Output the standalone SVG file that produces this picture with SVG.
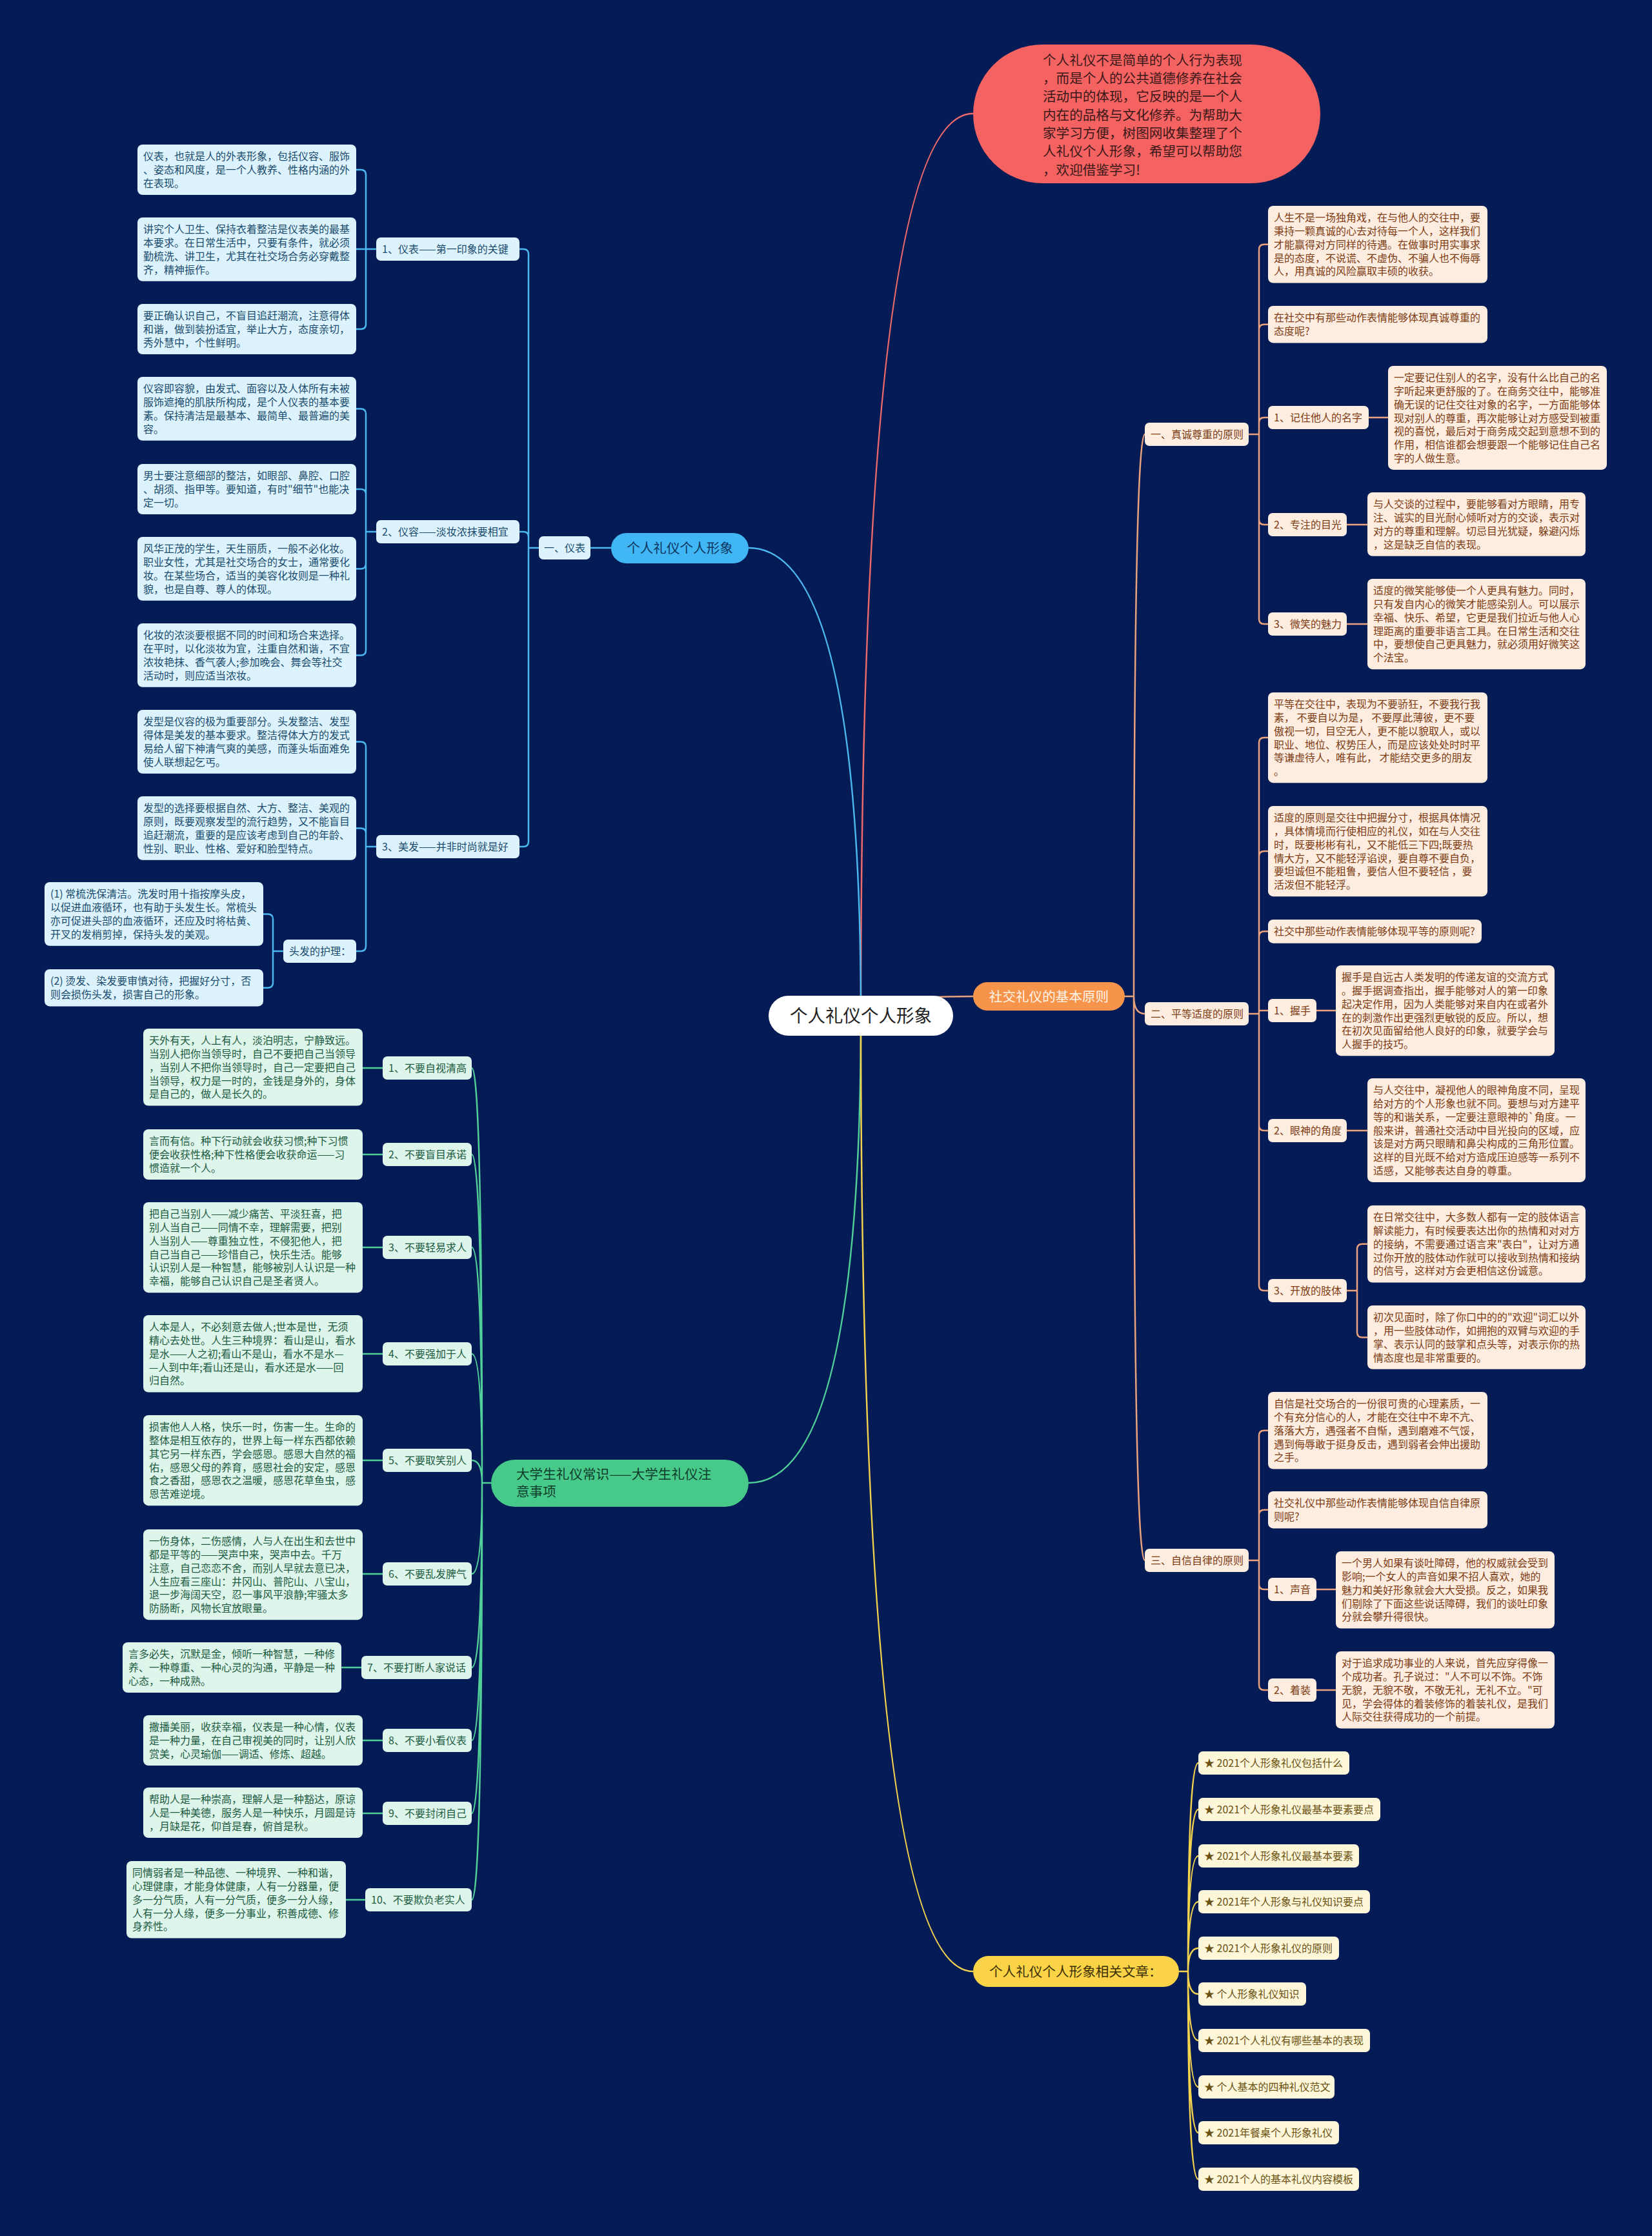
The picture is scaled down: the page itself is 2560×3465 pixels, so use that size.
<svg xmlns="http://www.w3.org/2000/svg" width="2560" height="3465" viewBox="0 0 2560 3465">
<style>
text{font-family:"Noto Sans CJK SC","Noto Sans",sans-serif}
.s{font-size:16px}
.m{font-size:20.6px}
.bb{fill:#dcf3fd}.bt{fill:#1b4b6d}
.gb{fill:#ddf5eb}.gt{fill:#1d5b41}
.ob{fill:#fdece0}.ot{fill:#7d3c13}
.yb{fill:#fdf6d9}.yt{fill:#6b5212}
.cb{fill:none;stroke:#4cb6ee;stroke-width:2.5}
.cg{fill:none;stroke:#50cf98;stroke-width:2.5}
.co{fill:none;stroke:#e9a27b;stroke-width:2.5}
.cy{fill:none;stroke:#f3d34e;stroke-width:2.5}
.cr{fill:none;stroke:#ef6a6a;stroke-width:2.5}
</style>
<rect x="0" y="0" width="2560" height="3465" fill="#041b55"/>
<g id="connectors">
<path class="cr" d="M1334 1574 Q1334 176 1508 176"/>
<path class="cb" d="M1334 1574 Q1334 849 1160 849"/>
<path class="cg" d="M1334 1574 Q1334 2298 1160 2298"/>
<path class="co" d="M1334 1574 Q1334 1544 1508 1544"/>
<path class="cy" d="M1334 1574 Q1334 3055 1508 3055"/>
<path class="cb" d="M947 849 H915 M835 849 H819 M819 849 V394 Q819 386 811 386 H805 M819 849 V832 Q819 824 811 824 H805 M819 849 V1304 Q819 1312 811 1312 H805"/>
<path class="cb" d="M583 386 H552 M567 386 V271 Q567 263 559 263 H552 M567 386 V502 Q567 510 559 510 H552"/>
<path class="cb" d="M583 824 H567 M567 824 V641.4 Q567 633.4 559 633.4 H552 M567 824 V766 Q567 758 559 758 H552 M567 824 V873.4 Q567 881.4 559 881.4 H552 M567 824 V1007.4 Q567 1015.4 559 1015.4 H552"/>
<path class="cb" d="M583 1312 H567 M567 1312 V1157.4 Q567 1149.4 559 1149.4 H552 M567 1312 V1291.4 Q567 1283.4 559 1283.4 H552 M567 1312 V1466 Q567 1474 559 1474 H552"/>
<path class="cb" d="M439 1474 H423 M423 1474 V1424.4 Q423 1416.4 415 1416.4 H408 M423 1474 V1522.7 Q423 1530.7 415 1530.7 H408"/>
<path class="cg" d="M761 2298 H747 Q747 1655 731 1655 M747 2298 Q747 1789 731 1789 M747 2298 Q747 1933 731 1933 M747 2298 Q747 2098 731 2098 M747 2298 Q747 2263 731 2263 M747 2298 Q747 2439 731 2439 M747 2298 Q747 2584 731 2584 M747 2298 Q747 2697 731 2697 M747 2298 Q747 2810 731 2810 M747 2298 Q747 2944 731 2944"/>
<path class="cg" d="M593 1655 H562 M593 1789 H562 M593 1933 H562 M593 2098 H562 M593 2263 H562 M593 2439 H562 M560 2584 H529 M593 2697 H562 M593 2810 H562 M566 2944 H536"/>
<path class="co" d="M1743 1544 H1757 Q1757 673 1774 673 M1757 1544 Q1757 1571 1774 1571 M1757 1544 Q1757 2418 1774 2418"/>
<path class="co" d="M1935 673 H1951 M1951 673 V386.75 Q1951 378.75 1959 378.75 H1965 M1951 673 V510.7 Q1951 502.7 1959 502.7 H1965 M1951 673 V655 Q1951 647 1959 647 H1965 M1951 673 V805 Q1951 813 1959 813 H1965 M1951 673 V959 Q1951 967 1959 967 H1965"/>
<path class="co" d="M2121 647 H2151 M2087 813 H2119 M2087 967 H2119"/>
<path class="co" d="M1935 1571 H1951 M1951 1571 V1151.1 Q1951 1143.1 1959 1143.1 H1965 M1951 1571 V1327.1 Q1951 1319.1 1959 1319.1 H1965 M1951 1571 V1451.35 Q1951 1443.35 1959 1443.35 H1965 M1951 1571 V1566 H1965 M1951 1571 V1744 Q1951 1752 1959 1752 H1965 M1951 1571 V1992 Q1951 2000 1959 2000 H1965"/>
<path class="co" d="M2040 1566 H2070 M2087 1752 H2119 M2087 2000 H2103 M2103 2000 V1935.75 Q2103 1927.75 2111 1927.75 H2119 M2103 2000 V2064.4 Q2103 2072.4 2111 2072.4 H2119"/>
<path class="co" d="M1935 2418 H1951 M1951 2418 V2224.75 Q1951 2216.75 1959 2216.75 H1965 M1951 2418 V2347.7 Q1951 2339.7 1959 2339.7 H1965 M1951 2418 V2455 Q1951 2463 1959 2463 H1965 M1951 2418 V2611 Q1951 2619 1959 2619 H1965"/>
<path class="co" d="M2040 2463 H2070 M2040 2619 H2070"/>
<path class="cy" d="M1827 3055 H1841 Q1841 2732 1857 2732 M1841 3055 Q1841 2804 1857 2804 M1841 3055 Q1841 2876 1857 2876 M1841 3055 Q1841 2947 1857 2947 M1841 3055 Q1841 3019 1857 3019 M1841 3055 Q1841 3090 1857 3090 M1841 3055 Q1841 3162 1857 3162 M1841 3055 Q1841 3234 1857 3234 M1841 3055 Q1841 3305 1857 3305 M1841 3055 Q1841 3377 1857 3377"/>
</g>

<g id="n-center"><rect x="1191" y="1543" width="286" height="62" rx="31" fill="#ffffff"/><text x="1334" y="1584" font-size="27.5" text-anchor="middle" fill="#222222">个人礼仪个人形象</text></g>

<g id="n-intro"><rect x="1508" y="69" width="538" height="215" rx="107.5" fill="#f46262"/>
<text class="m" x="1616" y="100.7" fill="#3b1818"><tspan x="1616">个人礼仪不是简单的个人行为表现</tspan><tspan x="1616" dy="28.33">，而是个人的公共道德修养在社会</tspan><tspan x="1616" dy="28.33">活动中的体现，它反映的是一个人</tspan><tspan x="1616" dy="28.33">内在的品格与文化修养。为帮助大</tspan><tspan x="1616" dy="28.33">家学习方便，树图网收集整理了个</tspan><tspan x="1616" dy="28.33">人礼仪个人形象，希望可以帮助您</tspan><tspan x="1616" dy="28.33">，欢迎借鉴学习!</tspan></text></g>

<g id="b-blue"><rect x="947" y="826" width="213" height="47" rx="23.5" fill="#40b6f4"/><text class="m" x="1053.5" y="857" text-anchor="middle" fill="#0e3560">个人礼仪个人形象</text></g>
<g id="b-green"><rect x="761" y="2262" width="399" height="73" rx="36.5" fill="#47c98a"/><text class="m" x="800" y="2292" fill="#0e3d2b"><tspan x="800">大学生礼仪常识——大学生礼仪注</tspan><tspan x="800" dy="27">意事项</tspan></text></g>
<g id="b-orange"><rect x="1508" y="1522" width="235" height="44" rx="22" fill="#f7944c"/><text class="m" x="1625.5" y="1551.8" text-anchor="middle" fill="#fff4e8">社交礼仪的基本原则</text></g>
<g id="b-yellow"><rect x="1508" y="3031" width="319" height="48" rx="24" fill="#fbd347"/><text class="m" x="1533" y="3062.5" fill="#3b2f05">个人礼仪个人形象相关文章：</text></g>

<g id="n-yibiao"><rect class="bb" x="835" y="831" width="80" height="36" rx="7"/><text class="bt s" x="843" y="855.1">一、仪表</text></g>
<g id="n-b1"><rect class="bb" x="583" y="368" width="222" height="36" rx="7"/><text class="bt s" x="592" y="392.1">1、仪表——第一印象的关键</text></g>
<g id="n-b2"><rect class="bb" x="583" y="806" width="222" height="36" rx="7"/><text class="bt s" x="592" y="830.1">2、仪容——淡妆浓抹要相宜</text></g>
<g id="n-b3"><rect class="bb" x="583" y="1294" width="222" height="36" rx="7"/><text class="bt s" x="592" y="1318.1">3、美发——并非时尚就是好</text></g>
<g id="n-hair"><rect class="bb" x="439" y="1456" width="113" height="36" rx="7"/><text class="bt s" x="448" y="1480.1">头发的护理：</text></g>

<g id="t-a1"><rect class="bb" x="213" y="224" width="339" height="78.1" rx="8"/><text class="bt s" x="222" y="248.4"><tspan x="222">仪表，也就是人的外表形象，包括仪容、服饰</tspan><tspan x="222" dy="20.7">、姿态和风度，是一个人教养、性格内涵的外</tspan><tspan x="222" dy="20.7">在表现。</tspan></text></g>
<g id="t-a2"><rect class="bb" x="213" y="337" width="339" height="98.8" rx="8"/><text class="bt s" x="222" y="361.4"><tspan x="222">讲究个人卫生、保持衣着整洁是仪表美的最基</tspan><tspan x="222" dy="20.7">本要求。在日常生活中，只要有条件，就必须</tspan><tspan x="222" dy="20.7">勤梳洗、讲卫生，尤其在社交场合务必穿戴整</tspan><tspan x="222" dy="20.7">齐，精神振作。</tspan></text></g>
<g id="t-a3"><rect class="bb" x="213" y="471" width="339" height="78.1" rx="8"/><text class="bt s" x="222" y="495.4"><tspan x="222">要正确认识自己，不盲目追赶潮流，注意得体</tspan><tspan x="222" dy="20.7">和谐，做到装扮适宜，举止大方，态度亲切，</tspan><tspan x="222" dy="20.7">秀外慧中，个性鲜明。</tspan></text></g>
<g id="t-a4"><rect class="bb" x="213" y="584" width="339" height="98.8" rx="8"/><text class="bt s" x="222" y="608.4"><tspan x="222">仪容即容貌，由发式、面容以及人体所有未被</tspan><tspan x="222" dy="20.7">服饰遮掩的肌肤所构成，是个人仪表的基本要</tspan><tspan x="222" dy="20.7">素。保持清洁是最基本、最简单、最普遍的美</tspan><tspan x="222" dy="20.7">容。</tspan></text></g>
<g id="t-a5"><rect class="bb" x="213" y="719" width="339" height="78.1" rx="8"/><text class="bt s" x="222" y="743.4"><tspan x="222">男士要注意细部的整洁，如眼部、鼻腔、口腔</tspan><tspan x="222" dy="20.7">、胡须、指甲等。要知道，有时"细节"也能决</tspan><tspan x="222" dy="20.7">定一切。</tspan></text></g>
<g id="t-a6"><rect class="bb" x="213" y="832" width="339" height="98.8" rx="8"/><text class="bt s" x="222" y="856.4"><tspan x="222">风华正茂的学生，天生丽质，一般不必化妆。</tspan><tspan x="222" dy="20.7">职业女性，尤其是社交场合的女士，通常要化</tspan><tspan x="222" dy="20.7">妆。在某些场合，适当的美容化妆则是一种礼</tspan><tspan x="222" dy="20.7">貌，也是自尊、尊人的体现。</tspan></text></g>
<g id="t-a7"><rect class="bb" x="213" y="966" width="339" height="98.8" rx="8"/><text class="bt s" x="222" y="990.4"><tspan x="222">化妆的浓淡要根据不同的时间和场合来选择。</tspan><tspan x="222" dy="20.7">在平时，以化淡妆为宜，注重自然和谐，不宜</tspan><tspan x="222" dy="20.7">浓妆艳抹、香气袭人;参加晚会、舞会等社交</tspan><tspan x="222" dy="20.7">活动时，则应适当浓妆。</tspan></text></g>
<g id="t-a8"><rect class="bb" x="213" y="1100" width="339" height="98.8" rx="8"/><text class="bt s" x="222" y="1124.4"><tspan x="222">发型是仪容的极为重要部分。头发整洁、发型</tspan><tspan x="222" dy="20.7">得体是美发的基本要求。整洁得体大方的发式</tspan><tspan x="222" dy="20.7">易给人留下神清气爽的美感，而蓬头垢面难免</tspan><tspan x="222" dy="20.7">使人联想起乞丐。</tspan></text></g>
<g id="t-a9"><rect class="bb" x="213" y="1234" width="339" height="98.8" rx="8"/><text class="bt s" x="222" y="1258.4"><tspan x="222">发型的选择要根据自然、大方、整洁、美观的</tspan><tspan x="222" dy="20.7">原则，既要观察发型的流行趋势，又不能盲目</tspan><tspan x="222" dy="20.7">追赶潮流，重要的是应该考虑到自己的年龄、</tspan><tspan x="222" dy="20.7">性别、职业、性格、爱好和脸型特点。</tspan></text></g>
<g id="t-h1"><rect class="bb" x="69" y="1367" width="339" height="98.8" rx="8"/><text class="bt s" x="78" y="1391.4"><tspan x="78">(1) 常梳洗保清洁。洗发时用十指按摩头皮，</tspan><tspan x="78" dy="20.7">以促进血液循环，也有助于头发生长。常梳头</tspan><tspan x="78" dy="20.7">亦可促进头部的血液循环，还应及时将枯黄、</tspan><tspan x="78" dy="20.7">开叉的发梢剪掉，保持头发的美观。</tspan></text></g>
<g id="t-h2"><rect class="bb" x="69" y="1502" width="339" height="57.4" rx="8"/><text class="bt s" x="78" y="1526.4"><tspan x="78">(2) 烫发、染发要审慎对待，把握好分寸，否</tspan><tspan x="78" dy="20.7">则会损伤头发，损害自己的形象。</tspan></text></g>

<g id="n-g1"><rect class="gb" x="593" y="1637" width="138" height="36" rx="7"/><text class="gt s" x="602" y="1661.1">1、不要自视清高</text></g>
<g id="n-g2"><rect class="gb" x="593" y="1771" width="138" height="36" rx="7"/><text class="gt s" x="602" y="1795.1">2、不要盲目承诺</text></g>
<g id="n-g3"><rect class="gb" x="593" y="1915" width="138" height="36" rx="7"/><text class="gt s" x="602" y="1939.1">3、不要轻易求人</text></g>
<g id="n-g4"><rect class="gb" x="593" y="2080" width="138" height="36" rx="7"/><text class="gt s" x="602" y="2104.1">4、不要强加于人</text></g>
<g id="n-g5"><rect class="gb" x="593" y="2245" width="138" height="36" rx="7"/><text class="gt s" x="602" y="2269.1">5、不要取笑别人</text></g>
<g id="n-g6"><rect class="gb" x="593" y="2421" width="138" height="36" rx="7"/><text class="gt s" x="602" y="2445.1">6、不要乱发脾气</text></g>
<g id="n-g7"><rect class="gb" x="560" y="2566" width="171" height="36" rx="7"/><text class="gt s" x="569" y="2590.1">7、不要打断人家说话</text></g>
<g id="n-g8"><rect class="gb" x="593" y="2679" width="138" height="36" rx="7"/><text class="gt s" x="602" y="2703.1">8、不要小看仪表</text></g>
<g id="n-g9"><rect class="gb" x="593" y="2792" width="138" height="36" rx="7"/><text class="gt s" x="602" y="2816.1">9、不要封闭自己</text></g>
<g id="n-g10"><rect class="gb" x="566" y="2926" width="165" height="36" rx="7"/><text class="gt s" x="575" y="2950.1">10、不要欺负老实人</text></g>

<g id="t-g1"><rect class="gb" x="222" y="1594" width="340" height="119.5" rx="8"/><text class="gt s" x="231" y="1618.4"><tspan x="231">天外有天，人上有人，淡泊明志，宁静致远。</tspan><tspan x="231" dy="20.7">当别人把你当领导时，自己不要把自己当领导</tspan><tspan x="231" dy="20.7">，当别人不把你当领导时，自己一定要把自己</tspan><tspan x="231" dy="20.7">当领导，权力是一时的，金钱是身外的，身体</tspan><tspan x="231" dy="20.7">是自己的，做人是长久的。</tspan></text></g>
<g id="t-g2"><rect class="gb" x="222" y="1750" width="340" height="78.1" rx="8"/><text class="gt s" x="231" y="1774.4"><tspan x="231">言而有信。种下行动就会收获习惯;种下习惯</tspan><tspan x="231" dy="20.7">便会收获性格;种下性格便会收获命运——习</tspan><tspan x="231" dy="20.7">惯造就一个人。</tspan></text></g>
<g id="t-g3"><rect class="gb" x="222" y="1863" width="340" height="140.2" rx="8"/><text class="gt s" x="231" y="1887.4"><tspan x="231">把自己当别人——减少痛苦、平淡狂喜，把</tspan><tspan x="231" dy="20.7">别人当自己——同情不幸，理解需要，把别</tspan><tspan x="231" dy="20.7">人当别人——尊重独立性，不侵犯他人，把</tspan><tspan x="231" dy="20.7">自己当自己——珍惜自己，快乐生活。能够</tspan><tspan x="231" dy="20.7">认识别人是一种智慧，能够被别人认识是一种</tspan><tspan x="231" dy="20.7">幸福，能够自己认识自己是圣者贤人。</tspan></text></g>
<g id="t-g4"><rect class="gb" x="222" y="2038" width="340" height="119.5" rx="8"/><text class="gt s" x="231" y="2062.4"><tspan x="231">人本是人，不必刻意去做人;世本是世，无须</tspan><tspan x="231" dy="20.7">精心去处世。人生三种境界：看山是山，看水</tspan><tspan x="231" dy="20.7">是水——人之初;看山不是山，看水不是水—</tspan><tspan x="231" dy="20.7">—人到中年;看山还是山，看水还是水——回</tspan><tspan x="231" dy="20.7">归自然。</tspan></text></g>
<g id="t-g5"><rect class="gb" x="222" y="2193" width="340" height="140.2" rx="8"/><text class="gt s" x="231" y="2217.4"><tspan x="231">损害他人人格，快乐一时，伤害一生。生命的</tspan><tspan x="231" dy="20.7">整体是相互依存的，世界上每一样东西都依赖</tspan><tspan x="231" dy="20.7">其它另一样东西，学会感恩。感恩大自然的福</tspan><tspan x="231" dy="20.7">佑，感恩父母的养育，感恩社会的安定，感恩</tspan><tspan x="231" dy="20.7">食之香甜，感恩衣之温暖，感恩花草鱼虫，感</tspan><tspan x="231" dy="20.7">恩苦难逆境。</tspan></text></g>
<g id="t-g6"><rect class="gb" x="222" y="2370" width="340" height="140.2" rx="8"/><text class="gt s" x="231" y="2394.4"><tspan x="231">一伤身体，二伤感情，人与人在出生和去世中</tspan><tspan x="231" dy="20.7">都是平等的——哭声中来，哭声中去。千万</tspan><tspan x="231" dy="20.7">注意，自己恋恋不舍，而别人早就去意已决，</tspan><tspan x="231" dy="20.7">人生应看三座山：井冈山、普陀山、八宝山，</tspan><tspan x="231" dy="20.7">退一步海阔天空，忍一事风平浪静;牢骚太多</tspan><tspan x="231" dy="20.7">防肠断，风物长宜放眼量。</tspan></text></g>
<g id="t-g7"><rect class="gb" x="190" y="2545" width="339" height="78.1" rx="8"/><text class="gt s" x="199" y="2569.4"><tspan x="199">言多必失，沉默是金，倾听一种智慧，一种修</tspan><tspan x="199" dy="20.7">养、一种尊重、一种心灵的沟通，平静是一种</tspan><tspan x="199" dy="20.7">心态，一种成熟。</tspan></text></g>
<g id="t-g8"><rect class="gb" x="222" y="2658" width="340" height="78.1" rx="8"/><text class="gt s" x="231" y="2682.4"><tspan x="231">撒播美丽，收获幸福，仪表是一种心情，仪表</tspan><tspan x="231" dy="20.7">是一种力量，在自己审视美的同时，让别人欣</tspan><tspan x="231" dy="20.7">赏美，心灵瑜伽——调适、修炼、超越。</tspan></text></g>
<g id="t-g9"><rect class="gb" x="222" y="2770" width="340" height="78.1" rx="8"/><text class="gt s" x="231" y="2794.4"><tspan x="231">帮助人是一种崇高，理解人是一种豁达，原谅</tspan><tspan x="231" dy="20.7">人是一种美德，服务人是一种快乐，月圆是诗</tspan><tspan x="231" dy="20.7">，月缺是花，仰首是春，俯首是秋。</tspan></text></g>
<g id="t-g10"><rect class="gb" x="196" y="2884" width="340" height="119.5" rx="8"/><text class="gt s" x="205" y="2908.4"><tspan x="205">同情弱者是一种品德、一种境界、一种和谐，</tspan><tspan x="205" dy="20.7">心理健康，才能身体健康，人有一分器量，便</tspan><tspan x="205" dy="20.7">多一分气质，人有一分气质，便多一分人缘，</tspan><tspan x="205" dy="20.7">人有一分人缘，便多一分事业，积善成德、修</tspan><tspan x="205" dy="20.7">身养性。</tspan></text></g>

<g id="n-o1"><rect class="ob" x="1774" y="655" width="161" height="36" rx="7"/><text class="ot s" x="1783" y="679.1">一、真诚尊重的原则</text></g>
<g id="n-o2"><rect class="ob" x="1774" y="1553" width="161" height="36" rx="7"/><text class="ot s" x="1783" y="1577.1">二、平等适度的原则</text></g>
<g id="n-o3"><rect class="ob" x="1774" y="2400" width="161" height="36" rx="7"/><text class="ot s" x="1783" y="2424.1">三、自信自律的原则</text></g>

<g id="t-c1"><rect class="ob" x="1965" y="319" width="340" height="119.5" rx="8"/><text class="ot s" x="1974" y="343.4"><tspan x="1974">人生不是一场独角戏，在与他人的交往中，要</tspan><tspan x="1974" dy="20.7">秉持一颗真诚的心去对待每一个人，这样我们</tspan><tspan x="1974" dy="20.7">才能赢得对方同样的待遇。在做事时用实事求</tspan><tspan x="1974" dy="20.7">是的态度，不说谎、不虚伪、不骗人也不侮辱</tspan><tspan x="1974" dy="20.7">人，用真诚的风险赢取丰硕的收获。</tspan></text></g>
<g id="t-c2"><rect class="ob" x="1965" y="474" width="340" height="57.4" rx="8"/><text class="ot s" x="1974" y="498.4"><tspan x="1974">在社交中有那些动作表情能够体现真诚尊重的</tspan><tspan x="1974" dy="20.7">态度呢?</tspan></text></g>
<g id="n-r1"><rect class="ob" x="1965" y="629" width="156" height="36" rx="7"/><text class="ot s" x="1974" y="653.1">1、记住他人的名字</text></g>
<g id="t-c3"><rect class="ob" x="2151" y="567" width="339" height="160.9" rx="8"/><text class="ot s" x="2160" y="591.4"><tspan x="2160">一定要记住别人的名字，没有什么比自己的名</tspan><tspan x="2160" dy="20.7">字听起来更舒服的了。在商务交往中，能够准</tspan><tspan x="2160" dy="20.7">确无误的记住交往对象的名字，一方面能够体</tspan><tspan x="2160" dy="20.7">现对别人的尊重，再次能够让对方感受到被重</tspan><tspan x="2160" dy="20.7">视的喜悦，最后对于商务成交起到意想不到的</tspan><tspan x="2160" dy="20.7">作用，相信谁都会想要跟一个能够记住自己名</tspan><tspan x="2160" dy="20.7">字的人做生意。</tspan></text></g>
<g id="n-r2"><rect class="ob" x="1965" y="795" width="122" height="36" rx="7"/><text class="ot s" x="1974" y="819.1">2、专注的目光</text></g>
<g id="t-c4"><rect class="ob" x="2119" y="763" width="338" height="98.8" rx="8"/><text class="ot s" x="2128" y="787.4"><tspan x="2128">与人交谈的过程中，要能够看对方眼睛，用专</tspan><tspan x="2128" dy="20.7">注、诚实的目光耐心倾听对方的交谈，表示对</tspan><tspan x="2128" dy="20.7">对方的尊重和理解。切忌目光犹疑，躲避闪烁</tspan><tspan x="2128" dy="20.7">，这是缺乏自信的表现。</tspan></text></g>
<g id="n-r3"><rect class="ob" x="1965" y="949" width="122" height="36" rx="7"/><text class="ot s" x="1974" y="973.1">3、微笑的魅力</text></g>
<g id="t-c5"><rect class="ob" x="2119" y="897" width="338" height="140.2" rx="8"/><text class="ot s" x="2128" y="921.4"><tspan x="2128">适度的微笑能够使一个人更具有魅力。同时，</tspan><tspan x="2128" dy="20.7">只有发自内心的微笑才能感染别人。可以展示</tspan><tspan x="2128" dy="20.7">幸福、快乐、希望，它更是我们拉近与他人心</tspan><tspan x="2128" dy="20.7">理距离的重要非语言工具。在日常生活和交往</tspan><tspan x="2128" dy="20.7">中，要想使自己更具魅力，就必须用好微笑这</tspan><tspan x="2128" dy="20.7">个法宝。</tspan></text></g>

<g id="t-d1"><rect class="ob" x="1965" y="1073" width="340" height="140.2" rx="8"/><text class="ot s" x="1974" y="1097.4"><tspan x="1974">平等在交往中，表现为不要骄狂，不要我行我</tspan><tspan x="1974" dy="20.7">素， 不要自以为是， 不要厚此薄彼，更不要</tspan><tspan x="1974" dy="20.7">傲视一切，目空无人，更不能以貌取人，或以</tspan><tspan x="1974" dy="20.7">职业、地位、权势压人，而是应该处处时时平</tspan><tspan x="1974" dy="20.7">等谦虚待人，唯有此， 才能结交更多的朋友</tspan><tspan x="1974" dy="20.7">。</tspan></text></g>
<g id="t-d2"><rect class="ob" x="1965" y="1249" width="340" height="140.2" rx="8"/><text class="ot s" x="1974" y="1273.4"><tspan x="1974">适度的原则是交往中把握分寸，根据具体情况</tspan><tspan x="1974" dy="20.7">，具体情境而行使相应的礼仪，如在与人交往</tspan><tspan x="1974" dy="20.7">时，既要彬彬有礼，又不能低三下四;既要热</tspan><tspan x="1974" dy="20.7">情大方，又不能轻浮谄谀，要自尊不要自负，</tspan><tspan x="1974" dy="20.7">要坦诚但不能粗鲁，要信人但不要轻信 ，要</tspan><tspan x="1974" dy="20.7">活泼但不能轻浮。</tspan></text></g>
<g id="t-d3"><rect class="ob" x="1965" y="1425" width="331" height="36.7" rx="8"/><text class="ot s" x="1974" y="1449.4">社交中那些动作表情能够体现平等的原则呢?</text></g>
<g id="n-w1"><rect class="ob" x="1965" y="1548" width="75" height="36" rx="7"/><text class="ot s" x="1974" y="1572.1">1、握手</text></g>
<g id="t-d4"><rect class="ob" x="2070" y="1496" width="339" height="140.2" rx="8"/><text class="ot s" x="2079" y="1520.4"><tspan x="2079">握手是自远古人类发明的传递友谊的交流方式</tspan><tspan x="2079" dy="20.7">。握手据调查指出，握手能够对人的第一印象</tspan><tspan x="2079" dy="20.7">起决定作用，因为人类能够对来自内在或者外</tspan><tspan x="2079" dy="20.7">在的刺激作出更强烈更敏锐的反应。所以，想</tspan><tspan x="2079" dy="20.7">在初次见面留给他人良好的印象，就要学会与</tspan><tspan x="2079" dy="20.7">人握手的技巧。</tspan></text></g>
<g id="n-w2"><rect class="ob" x="1965" y="1734" width="122" height="36" rx="7"/><text class="ot s" x="1974" y="1758.1">2、眼神的角度</text></g>
<g id="t-d5"><rect class="ob" x="2119" y="1671" width="338" height="160.9" rx="8"/><text class="ot s" x="2128" y="1695.4"><tspan x="2128">与人交往中，凝视他人的眼神角度不同，呈现</tspan><tspan x="2128" dy="20.7">给对方的个人形象也就不同。要想与对方建平</tspan><tspan x="2128" dy="20.7">等的和谐关系，一定要注意眼神的`角度。一</tspan><tspan x="2128" dy="20.7">般来讲，普通社交活动中目光投向的区域，应</tspan><tspan x="2128" dy="20.7">该是对方两只眼睛和鼻尖构成的三角形位置。</tspan><tspan x="2128" dy="20.7">这样的目光既不给对方造成压迫感等一系列不</tspan><tspan x="2128" dy="20.7">适感，又能够表达自身的尊重。</tspan></text></g>
<g id="n-w3"><rect class="ob" x="1965" y="1982" width="122" height="36" rx="7"/><text class="ot s" x="1974" y="2006.1">3、开放的肢体</text></g>
<g id="t-d6"><rect class="ob" x="2119" y="1868" width="338" height="119.5" rx="8"/><text class="ot s" x="2128" y="1892.4"><tspan x="2128">在日常交往中，大多数人都有一定的肢体语言</tspan><tspan x="2128" dy="20.7">解读能力，有时候要表达出你的热情和对对方</tspan><tspan x="2128" dy="20.7">的接纳，不需要通过语言来"表白"，让对方通</tspan><tspan x="2128" dy="20.7">过你开放的肢体动作就可以接收到热情和接纳</tspan><tspan x="2128" dy="20.7">的信号，这样对方会更相信这份诚意。</tspan></text></g>
<g id="t-d7"><rect class="ob" x="2119" y="2023" width="338" height="98.8" rx="8"/><text class="ot s" x="2128" y="2047.4"><tspan x="2128">初次见面时，除了你口中的的"欢迎"词汇以外</tspan><tspan x="2128" dy="20.7">，用一些肢体动作，如拥抱的双臂与欢迎的手</tspan><tspan x="2128" dy="20.7">掌、表示认同的鼓掌和点头等，对表示你的热</tspan><tspan x="2128" dy="20.7">情态度也是非常重要的。</tspan></text></g>

<g id="t-e1"><rect class="ob" x="1965" y="2157" width="340" height="119.5" rx="8"/><text class="ot s" x="1974" y="2181.4"><tspan x="1974">自信是社交场合的一份很可贵的心理素质，一</tspan><tspan x="1974" dy="20.7">个有充分信心的人，才能在交往中不卑不亢、</tspan><tspan x="1974" dy="20.7">落落大方，遇强者不自惭，遇到磨难不气馁，</tspan><tspan x="1974" dy="20.7">遇到侮辱敢于挺身反击，遇到弱者会伸出援助</tspan><tspan x="1974" dy="20.7">之手。</tspan></text></g>
<g id="t-e2"><rect class="ob" x="1965" y="2311" width="340" height="57.4" rx="8"/><text class="ot s" x="1974" y="2335.4"><tspan x="1974">社交礼仪中那些动作表情能够体现自信自律原</tspan><tspan x="1974" dy="20.7">则呢?</tspan></text></g>
<g id="n-s1"><rect class="ob" x="1965" y="2445" width="75" height="36" rx="7"/><text class="ot s" x="1974" y="2469.1">1、声音</text></g>
<g id="t-e3"><rect class="ob" x="2070" y="2404" width="339" height="119.5" rx="8"/><text class="ot s" x="2079" y="2428.4"><tspan x="2079">一个男人如果有谈吐障碍，他的权威就会受到</tspan><tspan x="2079" dy="20.7">影响;一个女人的声音如果不招人喜欢，她的</tspan><tspan x="2079" dy="20.7">魅力和美好形象就会大大受损。反之，如果我</tspan><tspan x="2079" dy="20.7">们剔除了下面这些说话障碍，我们的谈吐印象</tspan><tspan x="2079" dy="20.7">分就会攀升得很快。</tspan></text></g>
<g id="n-s2"><rect class="ob" x="1965" y="2601" width="75" height="36" rx="7"/><text class="ot s" x="1974" y="2625.1">2、着装</text></g>
<g id="t-e4"><rect class="ob" x="2070" y="2559" width="339" height="119.5" rx="8"/><text class="ot s" x="2079" y="2583.4"><tspan x="2079">对于追求成功事业的人来说，首先应穿得像一</tspan><tspan x="2079" dy="20.7">个成功者。孔子说过："人不可以不饰。不饰</tspan><tspan x="2079" dy="20.7">无貌，无貌不敬，不敬无礼，无礼不立。"可</tspan><tspan x="2079" dy="20.7">见，学会得体的着装修饰的着装礼仪，是我们</tspan><tspan x="2079" dy="20.7">人际交往获得成功的一个前提。</tspan></text></g>

<g id="a1"><rect class="yb" x="1857" y="2714" width="234" height="36" rx="7"/><text class="yt s" x="1866" y="2738.1">★ 2021个人形象礼仪包括什么</text></g>
<g id="a2"><rect class="yb" x="1857" y="2786" width="282" height="36" rx="7"/><text class="yt s" x="1866" y="2810.1">★ 2021个人形象礼仪最基本要素要点</text></g>
<g id="a3"><rect class="yb" x="1857" y="2858" width="249" height="36" rx="7"/><text class="yt s" x="1866" y="2882.1">★ 2021个人形象礼仪最基本要素</text></g>
<g id="a4"><rect class="yb" x="1857" y="2929" width="266" height="36" rx="7"/><text class="yt s" x="1866" y="2953.1">★ 2021年个人形象与礼仪知识要点</text></g>
<g id="a5"><rect class="yb" x="1857" y="3001" width="218" height="36" rx="7"/><text class="yt s" x="1866" y="3025.1">★ 2021个人形象礼仪的原则</text></g>
<g id="a6"><rect class="yb" x="1857" y="3072" width="167" height="36" rx="7"/><text class="yt s" x="1866" y="3096.1">★ 个人形象礼仪知识</text></g>
<g id="a7"><rect class="yb" x="1857" y="3144" width="266" height="36" rx="7"/><text class="yt s" x="1866" y="3168.1">★ 2021个人礼仪有哪些基本的表现</text></g>
<g id="a8"><rect class="yb" x="1857" y="3216" width="211" height="36" rx="7"/><text class="yt s" x="1866" y="3240.1">★ 个人基本的四种礼仪范文</text></g>
<g id="a9"><rect class="yb" x="1857" y="3287" width="218" height="36" rx="7"/><text class="yt s" x="1866" y="3311.1">★ 2021年餐桌个人形象礼仪</text></g>
<g id="a10"><rect class="yb" x="1857" y="3359" width="249" height="36" rx="7"/><text class="yt s" x="1866" y="3383.1">★ 2021个人的基本礼仪内容模板</text></g>
</svg>
